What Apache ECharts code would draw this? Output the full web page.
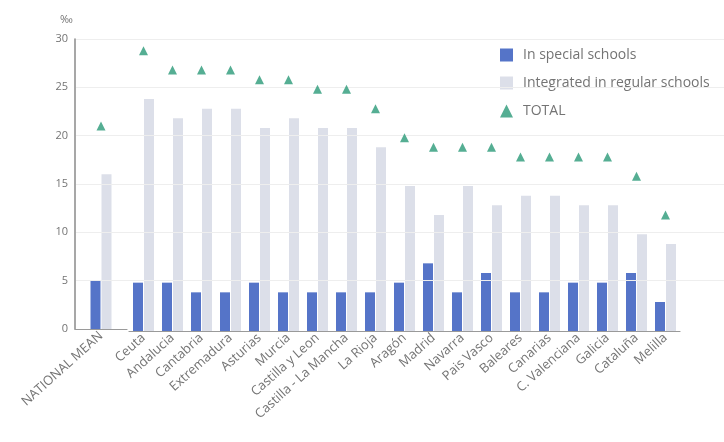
<!DOCTYPE html>
<html>
<head>
<meta charset="utf-8">
<script src="https://cdn.jsdelivr.net/npm/echarts@6/dist/echarts.min.js"></script>
<style>
  html, body { margin: 0; padding: 0; background: #fff; overflow: hidden; }
  #chart { width: 724px; height: 442px; }
</style>
</head>
<body>
<div id="chart"></div>
<script>
// Pupils with special educational needs per 1000 pupils, by region
const categories = ['NATIONAL MEAN', 'Ceuta', 'Andalucia', 'Cantabria', 'Extremadura', 'Asturias', 'Murcia',
  'Castilla y Leon', 'Castilla - La Mancha', 'La Rioja', 'Aragón', 'Madrid', 'Navarra', 'Pais Vasco',
  'Baleares', 'Canarias', 'C. Valenciana', 'Galicia', 'Cataluña', 'Melilla'];
const specialSchools = [5, 5, 5, 4, 4, 5, 4, 4, 4, 4, 5, 7, 4, 6, 4, 4, 5, 5, 6, 3];
const integrated = [16, 24, 22, 23, 23, 21, 22, 21, 21, 19, 15, 12, 15, 13, 14, 14, 13, 13, 10, 9];
const total = [21, 29, 27, 27, 27, 26, 26, 25, 25, 23, 20, 19, 19, 19, 18, 18, 18, 18, 16, 12];
const yTicks = { min: 0, max: 30, interval: 5 };

const FONT = '"Open Sans", sans-serif';
const TEXT = '#747474';
const BLUE = '#5574c8';
const GREY = '#dcdfe9';
const GREEN = '#2b9a78';

// The national mean stands apart in its own panel; the regions share the second one
const headCats = categories.slice(0, 1);
const restCats = categories.slice(1);

// Guide line levels above zero, one per y tick
const guideLevels = [];
for (let v = yTicks.min + yTicks.interval; v <= yTicks.max; v += yTicks.interval) guideLevels.push(v);

function xAxis(gridIndex, data) {
  return {
    type: 'category', gridIndex, data,
    axisLine: { show: true, onZero: false, lineStyle: { color: '#9a9a9a', width: 1.2 } },
    axisTick: { show: false },
    splitLine: { show: false },
    axisLabel: { rotate: 42, fontSize: 13, color: TEXT, fontFamily: FONT, margin: 5, interval: 0 }
  };
}
function yAxis(gridIndex, showLine) {
  return {
    type: 'value', gridIndex, position: 'left', min: yTicks.min, max: yTicks.max, interval: yTicks.interval,
    name: showLine ? '‰' : '', nameGap: 14,
    nameTextStyle: { color: TEXT, fontSize: 11, fontFamily: FONT, align: 'right', padding: [0, 2, 0, 0] },
    axisLine: { show: showLine, onZero: false, lineStyle: { color: '#8a8a8a', width: showLine ? 1.5 : 0 } },
    axisTick: { show: false },
    axisLabel: { show: showLine, color: TEXT, fontSize: 11, fontFamily: FONT, margin: 7 },
    splitLine: { show: false }
  };
}
function barSeries(name, idx, data, color) {
  return {
    name, type: 'bar', xAxisIndex: idx, yAxisIndex: idx, data, z: 3,
    barWidth: 10, barGap: '10%', itemStyle: { color }
  };
}
function totalSeries(idx, data) {
  return {
    name: 'TOTAL', type: 'scatter', xAxisIndex: idx, yAxisIndex: idx, data,
    symbol: 'triangle', symbolSize: 9, itemStyle: { color: GREEN }, z: 5
  };
}

const chart = echarts.init(document.getElementById('chart'), null, { renderer: 'canvas' });
chart.setOption({
  animation: false,
  backgroundColor: '#ffffff',
  textStyle: { fontFamily: FONT },
  legend: {
    orient: 'vertical', left: 495, top: 43, itemGap: 14,
    itemWidth: 13, itemHeight: 13,
    textStyle: { color: TEXT, fontSize: 14, fontFamily: FONT, padding: [0, 0, 0, 5] },
    data: [
      { name: 'In special schools', icon: 'rect' },
      { name: 'Integrated in regular schools', icon: 'rect' },
      { name: 'TOTAL', icon: 'triangle' }
    ]
  },
  grid: [
    { left: 75, width: 52, top: 39, bottom: 113, containLabel: false, show: false },
    { left: 129, right: 44, top: 41, bottom: 111, containLabel: false, show: false },
    // backdrop panel under both plots, carrying only the horizontal guide lines
    { left: 76, right: -6, top: 39, bottom: 113, containLabel: false, show: false }
  ],
  xAxis: [
    xAxis(0, headCats), xAxis(1, restCats),
    { type: 'category', gridIndex: 2, data: [''], show: false }
  ],
  yAxis: [
    yAxis(0, true), yAxis(1, false),
    { type: 'value', gridIndex: 2, min: yTicks.min, max: yTicks.max, interval: yTicks.interval, show: false,
      splitLine: { show: false } }
  ],
  series: [
    {
      type: 'line', xAxisIndex: 2, yAxisIndex: 2, data: [], z: 0, silent: true,
      markLine: {
        silent: true, symbol: 'none', label: { show: false }, animation: false,
        lineStyle: { color: '#eeeeee', type: 'solid', width: 1 },
        data: guideLevels.map(v => ({ yAxis: v }))
      }
    },
    barSeries('In special schools', 0, specialSchools.slice(0, 1), BLUE),
    barSeries('Integrated in regular schools', 0, integrated.slice(0, 1), GREY),
    totalSeries(0, total.slice(0, 1)),
    barSeries('In special schools', 1, specialSchools.slice(1), BLUE),
    barSeries('Integrated in regular schools', 1, integrated.slice(1), GREY),
    totalSeries(1, total.slice(1))
  ]
});
</script>
</body>
</html>
